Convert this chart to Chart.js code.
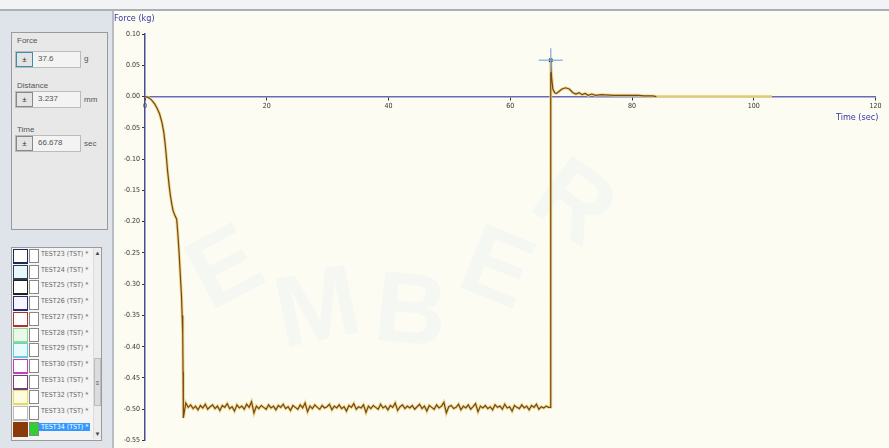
<!DOCTYPE html>
<html>
<head>
<meta charset="utf-8">
<script src="https://cdn.jsdelivr.net/npm/chart.js@4.4.1/dist/chart.umd.min.js"></script>
<style>
  html,body{margin:0;padding:0;width:889px;height:448px;overflow:hidden;background:#fcfcf3;font-family:"Liberation Sans",Arial,sans-serif;}
  #top{position:absolute;left:0;top:0;width:889px;height:9px;background:#f2f3f5;border-bottom:2px solid #a9b0b8;}
  #left{position:absolute;left:0;top:11px;width:112px;height:437px;background:#dfe3ea;border-right:2px solid #b8bcc4;}
  .box{position:absolute;background:#e8e8e8;border:1px solid #9a9a9a;}
  .lbl{position:absolute;font-size:8px;color:#555;}
  .fld{position:absolute;height:15px;width:64px;background:#f3f3f3;border:1px solid #bbb;}
  .btn{position:absolute;left:0;top:0;width:15px;height:13px;border:1px solid #888;background:#e4e4e4;font-size:8px;line-height:13px;text-align:center;color:#333;}
  .val{position:absolute;left:22px;top:2px;font-size:8px;color:#555;}
  .unit{position:absolute;font-size:8px;color:#555;}
  .row{position:absolute;left:0;width:80px;height:15.7px;}
  .sw{position:absolute;left:1px;top:1px;width:13px;height:12px;border:1px solid #333;border-bottom-width:2px;}
  .sw2{position:absolute;left:17px;top:1px;width:8px;height:12px;border:1px solid #888;background:#fff;}
  .tx{position:absolute;left:29px;top:2px;font-size:7px;color:#666;white-space:nowrap;font-family:"Liberation Sans Narrow","DejaVu Sans Condensed",sans-serif;}
  #wm{position:absolute;left:0;top:0;width:889px;height:448px;pointer-events:none;}
  .wl{position:absolute;font-family:"Liberation Sans",Arial,sans-serif;font-weight:bold;font-size:100px;color:rgba(222,228,238,0.2);line-height:1;}
  #chartWrap{position:absolute;left:114px;top:12px;width:775px;height:442px;}
  #ylab{position:absolute;left:114px;top:13px;font-size:9px;color:#3535a5;font-family:"Liberation Sans Narrow","DejaVu Sans Condensed",sans-serif;}
  #xlab{position:absolute;left:836px;top:112px;font-size:9px;color:#3535a5;font-family:"Liberation Sans Narrow","DejaVu Sans Condensed",sans-serif;}
</style>
</head>
<body>
<div id="top"></div>
<div id="wm">
  <div class="wl" style="left:190px;top:215px;transform:rotate(-28deg);">E</div>
  <div class="wl" style="left:275px;top:255px;transform:rotate(-12deg);">M</div>
  <div class="wl" style="left:375px;top:258px;transform:rotate(6deg);">B</div>
  <div class="wl" style="left:465px;top:215px;transform:rotate(22deg);">E</div>
  <div class="wl" style="left:540px;top:150px;transform:rotate(36deg);">R</div>
</div>
<div id="left">
  <div class="box" style="left:11px;top:21px;width:95px;height:196px;">
    <div class="lbl" style="left:5px;top:3px;">Force</div>
    <div class="fld" style="left:3px;top:18px;"><div class="btn" style="border-color:#3a8fb0;">±</div><div class="val">37.6</div></div>
    <div class="unit" style="left:72px;top:21px;">g</div>
    <div class="lbl" style="left:5px;top:48px;">Distance</div>
    <div class="fld" style="left:3px;top:58px;"><div class="btn">±</div><div class="val">3.237</div></div>
    <div class="unit" style="left:72px;top:62px;">mm</div>
    <div class="lbl" style="left:5px;top:92px;">Time</div>
    <div class="fld" style="left:3px;top:102px;"><div class="btn">±</div><div class="val">66.678</div></div>
    <div class="unit" style="left:72px;top:106px;">sec</div>
  </div>
  <div class="box" style="left:11px;top:236px;width:89px;height:192px;background:#f4f4f4;" id="list"></div>
</div>
<div id="chartWrap"><canvas id="c"></canvas></div>
<div id="ylab">Force (kg)</div>
<div id="xlab">Time (sec)</div>
<script>
// ---- data ----
const testNames = ["TEST23 (TST) *","TEST24 (TST) *","TEST25 (TST) *","TEST26 (TST) *","TEST27 (TST) *","TEST28 (TST) *","TEST29 (TST) *","TEST30 (TST) *","TEST31 (TST) *","TEST32 (TST) *","TEST33 (TST) *","TEST34 (TST) *"];
const testColors = ["#1a2a5a","#2a4050","#222222","#2a2a70","#b03030","#90d890","#60d0e0","#c040c0","#7a3a7a","#e0e060","#bbbbbb","#8b3a0a"];
const testFills = ["#ffffff","#e8f8fa","#ffffff","#f5f5ff","#ffffff","#eaf8ea","#e8fafc","#ffffff","#ffffff","#fffbe0","#ffffff","#8b3a0a"];

const yTicks = [0.10,0.05,0.00,-0.05,-0.10,-0.15,-0.20,-0.25,-0.30,-0.35,-0.40,-0.45,-0.50,-0.55];
const xTicks = [0,20,40,60,80,100,120];

const descentTime  = [0,0.4,0.8,1.2,1.6,2.0,2.4,2.8,3.1,3.3,3.5,3.7,4.0,4.2,4.4,4.6,4.9,5.2,5.4,5.6,5.8,6.0,6.1,6.2,6.25,6.3];
const descentForce = [0,-0.001,-0.003,-0.007,-0.012,-0.019,-0.028,-0.042,-0.058,-0.075,-0.095,-0.118,-0.145,-0.16,-0.172,-0.182,-0.19,-0.196,-0.22,-0.25,-0.285,-0.32,-0.35,-0.38,-0.44,-0.5];

const holdStart = 6.3;      // sec
const holdInterval = 0.4;   // sec between samples
const holdForce = [
-0.514,-0.49,-0.497,-0.493,-0.499,-0.495,-0.501,-0.494,-0.498,-0.492,
-0.5,-0.496,-0.493,-0.499,-0.495,-0.502,-0.494,-0.497,-0.491,-0.499,
-0.496,-0.503,-0.493,-0.498,-0.495,-0.5,-0.492,-0.497,-0.488,-0.506,
-0.495,-0.499,-0.494,-0.497,-0.5,-0.493,-0.498,-0.495,-0.501,-0.494,
-0.497,-0.492,-0.499,-0.496,-0.502,-0.494,-0.497,-0.5,-0.493,-0.498,
-0.49,-0.504,-0.495,-0.499,-0.493,-0.497,-0.5,-0.494,-0.498,-0.496,
-0.492,-0.501,-0.495,-0.498,-0.493,-0.499,-0.496,-0.503,-0.494,-0.497,
-0.491,-0.5,-0.496,-0.498,-0.493,-0.505,-0.495,-0.499,-0.494,-0.497,
-0.5,-0.492,-0.498,-0.495,-0.501,-0.494,-0.497,-0.49,-0.502,-0.496,
-0.493,-0.499,-0.495,-0.498,-0.494,-0.5,-0.496,-0.492,-0.499,-0.495,
-0.503,-0.494,-0.497,-0.5,-0.493,-0.498,-0.495,-0.489,-0.506,-0.496,
-0.494,-0.499,-0.497,-0.492,-0.501,-0.495,-0.498,-0.493,-0.5,-0.496,
-0.491,-0.504,-0.495,-0.498,-0.494,-0.499,-0.496,-0.501,-0.493,-0.497,
-0.495,-0.5,-0.492,-0.498,-0.496,-0.503,-0.494,-0.497,-0.499,-0.493,
-0.498,-0.495,-0.501,-0.494,-0.497,-0.492,-0.5,-0.496,-0.498,-0.495,-0.497];

const recoveryTime  = [66.6,66.65,66.8,67.0,67.3,67.6,68.0,68.5,69.1,69.7,70.3,70.8,71.3,71.8,72.3,72.8,73.4,74.0,75.0,77.0,79.0,81.0,82.0,83.4,84.0];
const recoveryForce = [-0.497,0.058,0.03,0.012,0.006,0.005,0.008,0.012,0.014,0.012,0.006,0.004,0.006,0.003,0.005,0.002,0.004,0.002,0.003,0.002,0.002,0.002,0.001,0.001,0.0];

const overlayTime  = [84.0,103.0];   // pale yellow trace remaining at zero
const overlayForce = [0.0,0.0];

const markerTime = [66.65];
const markerForce = [0.058];

// ---- left list ----
const list = document.getElementById('list');
testNames.forEach((n,i)=>{
  const r = document.createElement('div');
  r.className='row'; r.style.top=(i*15.7)+'px';
  const sw=document.createElement('div'); sw.className='sw';
  sw.style.borderColor=testColors[i]; sw.style.background=testFills[i];
  const sw2=document.createElement('div'); sw2.className='sw2';
  if(i===11){sw2.style.background='#30d030';}
  const tx=document.createElement('div'); tx.className='tx'; tx.textContent=n;
  if(i===11){tx.style.background='#3399ff';tx.style.color='#fff';tx.style.padding='0 2px';tx.style.left='27px';}
  r.appendChild(sw);r.appendChild(sw2);r.appendChild(tx);list.appendChild(r);
});
const sb=document.createElement('div');
sb.style.cssText='position:absolute;left:81px;top:0;width:7px;height:191px;background:#ececec;border-left:1px solid #ddd;font-size:6px;color:#444;text-align:center;';
sb.innerHTML='<div style="position:absolute;top:2px;width:7px">▲</div><div style="position:absolute;top:110px;width:7px;height:48px;background:#dcdcdc;border:1px solid #bbb;box-sizing:border-box;line-height:48px">≡</div><div style="position:absolute;bottom:2px;width:7px">▼</div>';
list.appendChild(sb);

// ---- chart ----
const mainPts = [];
descentTime.forEach((t,i)=>mainPts.push({x:t,y:descentForce[i]}));
holdForce.forEach((f,i)=>mainPts.push({x:holdStart+i*holdInterval,y:f}));
recoveryTime.forEach((t,i)=>mainPts.push({x:t,y:recoveryForce[i]}));
const halo = mainPts.concat(overlayTime.map((t,i)=>({x:t,y:overlayForce[i]})));

const tickFont = {family:'"Liberation Sans Narrow","DejaVu Sans Condensed",sans-serif',size:7};
new Chart(document.getElementById('c'),{
  type:'line',
  data:{datasets:[
    {data:markerTime.map((t,i)=>({x:t,y:markerForce[i]})),showLine:false,pointStyle:'cross',pointRadius:12,pointBorderColor:'rgba(140,180,220,0.9)',pointBorderWidth:1.5,order:0},
    {data:markerTime.map((t,i)=>({x:t,y:markerForce[i]})),showLine:false,pointStyle:'rect',pointRadius:2,pointBackgroundColor:'#222',pointBorderColor:'#222',order:0},
    {data:mainPts,borderColor:'#7e4514',borderWidth:1.2,pointRadius:0,tension:0,order:1},
    {data:halo,borderColor:'rgba(230,214,130,0.9)',borderWidth:3,pointRadius:0,tension:0,order:2}
  ]},
  options:{
    responsive:true,maintainAspectRatio:false,animation:false,
    layout:{padding:{left:0,right:7,top:22,bottom:2}},
    plugins:{legend:{display:false},tooltip:{enabled:false}},
    scales:{
      x:{type:'linear',min:0,max:120,position:{y:0},
        afterBuildTicks:s=>{s.ticks=xTicks.map(v=>({value:v}));},
        afterFit:s=>{s.height=0;},
        ticks:{font:tickFont,color:'#333',padding:2,maxRotation:0,callback:v=>String(v)},
        grid:{display:true,drawOnChartArea:false,tickLength:3,color:'#333'},
        border:{display:true,color:'#6a6ab8',width:1.5}},
      y:{type:'linear',min:-0.55,max:0.10,
        afterBuildTicks:s=>{s.ticks=yTicks.map(v=>({value:v}));},
        afterFit:s=>{s.width=31;},
        ticks:{font:tickFont,color:'#333',padding:2,callback:v=>v.toFixed(2)},
        grid:{display:true,drawOnChartArea:false,tickLength:3,color:'#333'},
        border:{display:true,color:'#4a4a95',width:1.5}}
    }
  }
});
</script>
</body>
</html>
